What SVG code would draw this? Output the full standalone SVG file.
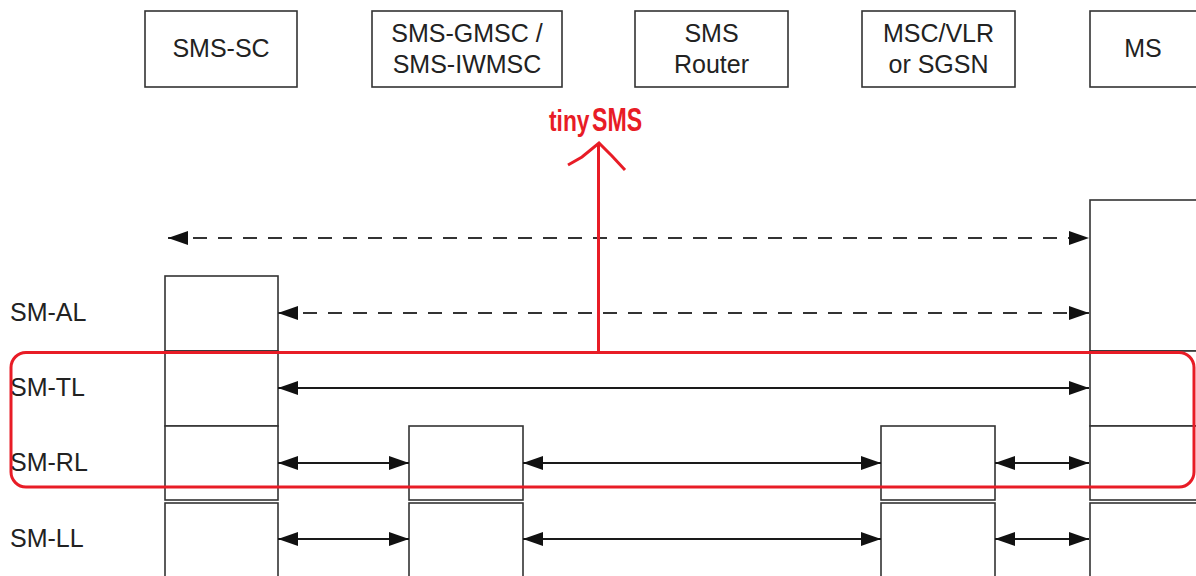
<svg xmlns="http://www.w3.org/2000/svg" width="1196" height="576" viewBox="0 0 1196 576">
<style>
.box{fill:#fff;stroke:#333;stroke-width:1.6}
.lbl{font-family:"Liberation Sans",Arial,sans-serif;font-size:25px;fill:#222}
.c{text-anchor:middle}
.sol{stroke:#1a1a1a;stroke-width:1.8;fill:none}
.dash{stroke:#333;stroke-width:1.8;fill:none;stroke-dasharray:14 11}
.red{stroke:#e81c26;stroke-width:3;fill:none}
.redt{font-family:"Liberation Sans",Arial,sans-serif;font-weight:bold;fill:#e81c26}
</style>
<defs>
<marker id="ah" viewBox="0 0 20 14" refX="20" refY="7" markerWidth="20" markerHeight="14" markerUnits="userSpaceOnUse" orient="auto-start-reverse">
<path d="M0,0 L20,7 L0,14 Z" fill="#111"/>
</marker>
</defs>
<rect width="1196" height="576" fill="#fff"/>

<g id="sms-sc">
<rect class="box" x="145" y="11" width="152" height="76"/>
<text class="lbl c" x="221" y="57">SMS-SC</text>
<rect class="box" x="165" y="276" width="113" height="75"/>
<rect class="box" x="165" y="351" width="113" height="75"/>
<rect class="box" x="165" y="426" width="113" height="74"/>
<rect class="box" x="165" y="503" width="113" height="80"/>
</g>
<g id="sms-gmsc">
<rect class="box" x="372" y="11" width="190" height="76"/>
<text class="lbl c" x="467" y="42">SMS-GMSC /</text>
<text class="lbl c" x="467" y="73">SMS-IWMSC</text>
<rect class="box" x="409" y="426" width="114" height="74"/>
<rect class="box" x="409" y="503" width="114" height="80"/>
</g>
<g id="sms-router">
<rect class="box" x="635" y="11" width="153" height="76"/>
<text class="lbl c" x="711.5" y="42">SMS</text>
<text class="lbl c" x="711.5" y="73">Router</text>
</g>
<g id="msc-vlr">
<rect class="box" x="862" y="11" width="153" height="76"/>
<text class="lbl c" x="938.5" y="42">MSC/VLR</text>
<text class="lbl c" x="938.5" y="73">or SGSN</text>
<rect class="box" x="881" y="426" width="114" height="74"/>
<rect class="box" x="881" y="503" width="114" height="80"/>
</g>
<g id="ms">
<rect class="box" x="1090" y="11" width="120" height="76"/>
<text class="lbl c" x="1143" y="57">MS</text>
<rect class="box" x="1090" y="200" width="120" height="151"/>
<rect class="box" x="1090" y="351" width="120" height="75"/>
<rect class="box" x="1090" y="426" width="120" height="74"/>
<rect class="box" x="1090" y="503" width="120" height="80"/>
</g>

<g id="layer-labels">
<text class="lbl" x="10" y="321">SM-AL</text>
<text class="lbl" x="10" y="396">SM-TL</text>
<text class="lbl" x="10" y="471">SM-RL</text>
<text class="lbl" x="10" y="547">SM-LL</text>
</g>

<g id="connectors">
<line class="dash" x1="168" y1="238" x2="1089" y2="238" marker-start="url(#ah)" marker-end="url(#ah)"/>
<line class="dash" x1="278" y1="313" x2="1089" y2="313" marker-start="url(#ah)" marker-end="url(#ah)"/>
<line class="sol" x1="278" y1="388" x2="1089" y2="388" marker-start="url(#ah)" marker-end="url(#ah)"/>
<line class="sol" x1="278" y1="463" x2="409" y2="463" marker-start="url(#ah)" marker-end="url(#ah)"/>
<line class="sol" x1="523" y1="463" x2="881" y2="463" marker-start="url(#ah)" marker-end="url(#ah)"/>
<line class="sol" x1="995" y1="463" x2="1089" y2="463" marker-start="url(#ah)" marker-end="url(#ah)"/>
<line class="sol" x1="278" y1="539" x2="409" y2="539" marker-start="url(#ah)" marker-end="url(#ah)"/>
<line class="sol" x1="523" y1="539" x2="881" y2="539" marker-start="url(#ah)" marker-end="url(#ah)"/>
<line class="sol" x1="995" y1="539" x2="1089" y2="539" marker-start="url(#ah)" marker-end="url(#ah)"/>
</g>

<g id="tinysms">
<rect class="red" x="11" y="352.5" width="1183" height="134.5" rx="15"/>
<line class="red" x1="598.5" y1="352" x2="598.5" y2="143"/>
<polyline class="red" points="568,165 582,157 599,143 612,156 625,170"/>
<text class="redt" font-size="30" transform="translate(549,131) scale(0.76,1)">tiny</text>
<text class="redt" font-size="34" transform="translate(592,131) scale(0.68,1)">SMS</text>
</g>
</svg>
